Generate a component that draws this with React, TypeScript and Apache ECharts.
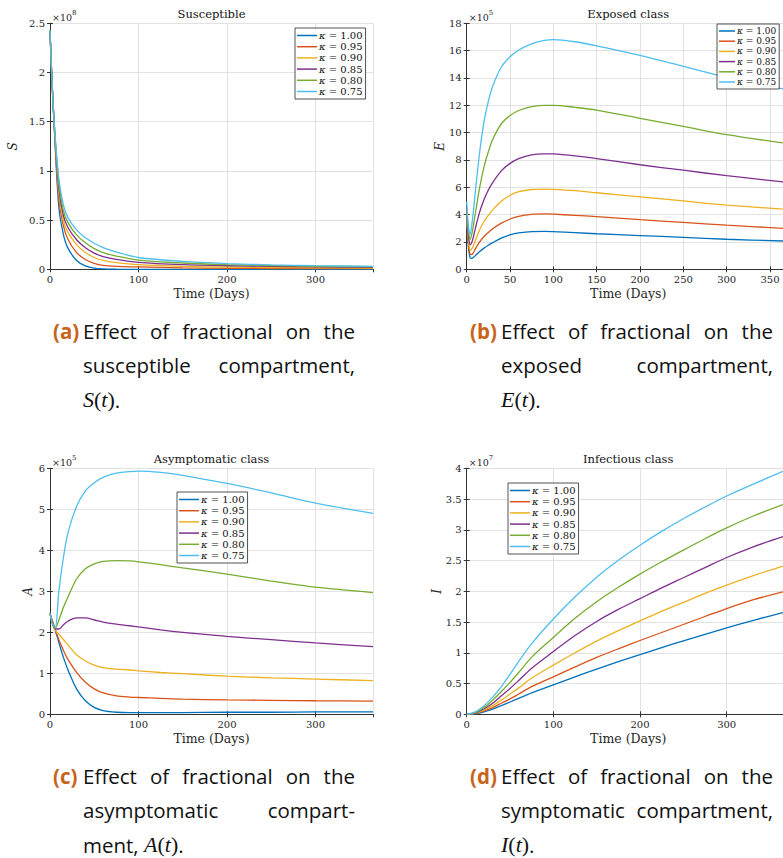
import React, { useEffect, useRef } from "react";
import * as echarts from "echarts";

// ---------------- data ----------------
const KAPPAS = ["1.00", "0.95", "0.90", "0.85", "0.80", "0.75"];
const COLORS = ["#0072BD", "#D95319", "#EDB120", "#7E2F8E", "#77AC30", "#4DBEEE"];

// (a) Susceptible, units of 1e8
const T_S = [0, 2, 5, 10, 15, 20, 30, 40, 50, 60, 75, 100, 150, 200, 250, 300, 365];
const S_VALUES = [
  [2.43, 1.95, 1.4, 0.63, 0.36, 0.22, 0.09, 0.035, 0.012, 0.004, 0.001, 0, 0, 0, 0, 0, 0],
  [2.43, 1.96, 1.42, 0.72, 0.45, 0.31, 0.17, 0.1, 0.06, 0.04, 0.03, 0.024, 0.014, 0.01, 0.008, 0.007, 0.006],
  [2.43, 1.96, 1.43, 0.78, 0.5, 0.38, 0.25, 0.17, 0.12, 0.09, 0.068, 0.047, 0.03, 0.022, 0.018, 0.015, 0.012],
  [2.43, 1.97, 1.44, 0.83, 0.55, 0.43, 0.3, 0.22, 0.165, 0.13, 0.1, 0.07, 0.047, 0.036, 0.029, 0.024, 0.02],
  [2.43, 1.97, 1.45, 0.87, 0.6, 0.48, 0.35, 0.27, 0.21, 0.17, 0.135, 0.094, 0.064, 0.048, 0.038, 0.031, 0.026],
  [2.43, 1.98, 1.46, 0.92, 0.66, 0.53, 0.4, 0.32, 0.265, 0.22, 0.175, 0.12, 0.08, 0.058, 0.045, 0.037, 0.03],
];

// (b) Exposed, units of 1e5
const T_E = [0, 2, 4, 6, 8, 10, 15, 20, 25, 30, 40, 50, 60, 75, 90, 100, 125, 150, 200, 250, 300, 365];
const E_VALUES = [
  [3.6, 1.6, 0.85, 0.8, 0.88, 1.0, 1.3, 1.55, 1.76, 1.95, 2.28, 2.52, 2.66, 2.76, 2.77, 2.75, 2.68, 2.6, 2.47, 2.34, 2.2, 2.07],
  [4.4, 2.0, 1.1, 1.08, 1.25, 1.5, 2.0, 2.4, 2.7, 2.97, 3.38, 3.68, 3.88, 4.02, 4.05, 4.03, 3.95, 3.85, 3.63, 3.43, 3.23, 3.0],
  [3.8, 2.2, 1.4, 1.5, 1.78, 2.1, 2.9, 3.5, 3.95, 4.35, 4.98, 5.42, 5.68, 5.84, 5.87, 5.85, 5.75, 5.6, 5.3, 5.0, 4.7, 4.4],
  [3.9, 2.5, 1.8, 2.0, 2.45, 3.0, 4.2, 5.1, 5.8, 6.35, 7.2, 7.75, 8.1, 8.38, 8.45, 8.44, 8.3, 8.1, 7.65, 7.25, 6.85, 6.4],
  [4.1, 2.8, 2.2, 2.6, 3.3, 4.1, 6.0, 7.5, 8.6, 9.5, 10.65, 11.25, 11.62, 11.9, 12.0, 12.0, 11.85, 11.65, 11.05, 10.45, 9.85, 9.25],
  [4.95, 3.2, 2.55, 3.3, 4.4, 5.7, 8.6, 10.8, 12.3, 13.4, 14.8, 15.55, 16.05, 16.5, 16.75, 16.8, 16.65, 16.35, 15.65, 14.85, 14.05, 13.2],
];

// (c) Asymptomatic, units of 1e5
const T_A = [0, 3, 6, 10, 15, 20, 30, 40, 50, 60, 75, 90, 100, 125, 150, 200, 250, 300, 365];
const A_VALUES = [
  [2.46, 2.25, 2.05, 1.75, 1.4, 1.1, 0.62, 0.33, 0.17, 0.09, 0.05, 0.04, 0.04, 0.04, 0.04, 0.05, 0.05, 0.06, 0.06],
  [2.46, 2.25, 2.06, 1.82, 1.57, 1.35, 1.02, 0.78, 0.62, 0.52, 0.45, 0.42, 0.41, 0.39, 0.37, 0.35, 0.34, 0.33, 0.32],
  [2.46, 2.18, 2.05, 1.95, 1.83, 1.7, 1.45, 1.3, 1.2, 1.14, 1.1, 1.08, 1.06, 1.02, 0.99, 0.93, 0.89, 0.86, 0.82],
  [2.46, 2.2, 2.08, 2.08, 2.18, 2.27, 2.35, 2.35, 2.3, 2.25, 2.2, 2.16, 2.13, 2.06, 2.0, 1.9, 1.82, 1.74, 1.65],
  [2.46, 2.2, 2.1, 2.3, 2.6, 2.85, 3.3, 3.55, 3.67, 3.73, 3.75, 3.74, 3.72, 3.65, 3.57, 3.42, 3.25, 3.1, 2.97],
  [2.46, 2.2, 2.12, 3.0, 3.8, 4.4, 5.07, 5.45, 5.65, 5.78, 5.88, 5.92, 5.93, 5.9, 5.83, 5.63, 5.4, 5.15, 4.9],
];

// (d) Infectious, units of 1e7
const T_I = [0, 10, 20, 30, 40, 50, 60, 75, 100, 125, 150, 175, 200, 225, 250, 275, 300, 330, 365];
const I_VALUES = [
  [0, 0.01, 0.04, 0.085, 0.14, 0.2, 0.26, 0.35, 0.48, 0.61, 0.735, 0.855, 0.97, 1.085, 1.195, 1.3, 1.405, 1.525, 1.655],
  [0, 0.015, 0.055, 0.11, 0.18, 0.25, 0.33, 0.45, 0.61, 0.77, 0.925, 1.065, 1.2, 1.33, 1.46, 1.59, 1.72, 1.86, 1.99],
  [0, 0.02, 0.07, 0.14, 0.23, 0.33, 0.43, 0.59, 0.8, 1.0, 1.19, 1.36, 1.52, 1.675, 1.82, 1.965, 2.1, 2.25, 2.41],
  [0, 0.025, 0.09, 0.18, 0.3, 0.42, 0.55, 0.75, 1.02, 1.28, 1.51, 1.705, 1.88, 2.055, 2.22, 2.385, 2.55, 2.72, 2.89],
  [0, 0.03, 0.11, 0.23, 0.37, 0.52, 0.68, 0.93, 1.25, 1.56, 1.83, 2.065, 2.28, 2.48, 2.67, 2.855, 3.03, 3.22, 3.41],
  [0, 0.04, 0.14, 0.28, 0.45, 0.65, 0.86, 1.15, 1.55, 1.91, 2.23, 2.505, 2.75, 2.975, 3.18, 3.37, 3.55, 3.74, 3.95],
];

const PANEL_TITLES = ["Susceptible", "Exposed class", "Asymptomatic class", "Infectious class"];
const PANEL_YNAMES = ["S", "E", "A", "I"];
const PANEL_EXPONENTS = ["8", "5", "5", "7"];
const PANEL_YMAX = [2.5, 18, 6, 4];
const PANEL_YSTEP = [0.5, 2, 1, 0.5];
const PANEL_XSTEP = [100, 50, 100, 100];
const X_MAX = 365;
const X_NAME = "Time (Days)";

const CAPTION_TAGS = ["(a)", "(b)", "(c)", "(d)"];
const CAPTION_LINE1 = "Effect of fractional on the";
const CAPTION_LINE2 = ["susceptible compartment,", "exposed compartment,", "asymptomatic compart-", "symptomatic compartment,"];
const CAPTION_PREFIX3 = ["", "", "ment, ", ""];
const CAPTION_MATH = ["S", "E", "A", "I"];

// ---------------- layout ----------------
const W = 783;
const H = 858;
const GRIDS = [
  { left: 50, top: 23.3, width: 323, height: 246 },
  { left: 466.7, top: 23.3, width: 323.3, height: 246 },
  { left: 50, top: 468.3, width: 323, height: 246 },
  { left: 466.7, top: 468.3, width: 323.3, height: 246 },
];
const LEGENDS = [
  { left: 295, top: 28, fs: 10 },
  { left: 717, top: 24, fs: 9 },
  { left: 177, top: 492, fs: 10 },
  { left: 508, top: 483, fs: 10 },
];
const SERIF = "'DejaVu Serif', serif";
const CAP_FONT = "'Open Sans', 'Noto Sans', sans-serif";
const CAP_SIZE = 20.5;
const AX_COLOR = "#333333";
const GRID_COLOR = "#e2e2e2";

let measureCtx: CanvasRenderingContext2D | null = null;
function textWidth(t: string, font: string) {
  if (!measureCtx) measureCtx = document.createElement("canvas").getContext("2d");
  measureCtx!.font = font;
  return measureCtx!.measureText(t).width;
}

function justified(words: string[], x0: number, x1: number, y: number) {
  const font = `${CAP_SIZE}px ${CAP_FONT}`;
  const widths = words.map((w) => textWidth(w, font));
  const total = widths.reduce((a, b) => a + b, 0);
  const gap = words.length > 1 ? (x1 - x0 - total) / (words.length - 1) : 0;
  const els: any[] = [];
  let x = x0;
  words.forEach((w, i) => {
    els.push({
      type: "text",
      x,
      y,
      style: { text: w, fontFamily: CAP_FONT, fontSize: CAP_SIZE, fill: "#111", align: "left", verticalAlign: "middle" },
    });
    x += widths[i] + gap;
  });
  return els;
}

function buildOption() {
  const allData = [
    { t: T_S, v: S_VALUES },
    { t: T_E, v: E_VALUES },
    { t: T_A, v: A_VALUES },
    { t: T_I, v: I_VALUES },
  ];
  const names = KAPPAS.map((k) => `κ = ${k}`);
  const xAxis: any[] = [];
  const yAxis: any[] = [];
  const series: any[] = [];
  const legend: any[] = [];
  const graphic: any[] = [];

  GRIDS.forEach((g, p) => {
    const axLine = { show: true, lineStyle: { color: AX_COLOR, width: 1 } };
    const tick = { show: true, inside: true, length: 3, lineStyle: { color: AX_COLOR } };
    xAxis.push({
      gridIndex: p, type: "value", position: "bottom", min: 0, max: X_MAX, interval: PANEL_XSTEP[p],
      axisLine: axLine, axisTick: tick,
      axisLabel: { showMaxLabel: false, fontFamily: SERIF, fontSize: 10, color: "#262626", margin: 5 },
      splitLine: { show: true, lineStyle: { color: GRID_COLOR, width: 1 } },
    });
    xAxis.push({
      gridIndex: p, type: "value", position: "top", min: 0, max: X_MAX, interval: PANEL_XSTEP[p],
      axisLine: axLine, axisTick: tick, axisLabel: { show: false }, splitLine: { show: false },
    });
    yAxis.push({
      gridIndex: p, type: "value", position: "left", min: 0, max: PANEL_YMAX[p], interval: PANEL_YSTEP[p],
      axisLine: axLine, axisTick: tick,
      axisLabel: { fontFamily: SERIF, fontSize: 10, color: "#262626", margin: 5 },
      splitLine: { show: true, lineStyle: { color: GRID_COLOR, width: 1 } },
    });
    yAxis.push({
      gridIndex: p, type: "value", position: "right", min: 0, max: PANEL_YMAX[p], interval: PANEL_YSTEP[p],
      axisLine: axLine, axisTick: tick, axisLabel: { show: false }, splitLine: { show: false },
    });

    const d = allData[p];
    d.v.forEach((vals, s) => {
      series.push({
        type: "line",
        name: names[s],
        xAxisIndex: 2 * p,
        yAxisIndex: 2 * p,
        data: d.t.map((t, i) => [t, vals[i]]),
        symbol: "none",
        showSymbol: false,
        smooth: 0.3,
        lineStyle: { width: 1.3, color: COLORS[s] },
        itemStyle: { color: COLORS[s] },
        z: 2 + s * 0.01,
      });
    });

    const lg = LEGENDS[p];
    legend.push({
      orient: "vertical",
      left: lg.left,
      top: lg.top,
      data: names.map((n) => ({ name: n, icon: "rect" })),
      selectedMode: false,
      itemWidth: lg.fs === 10 ? 20 : 16,
      itemHeight: 1.5,
      itemGap: 1.2,
      padding: [2.5, 3, 2.5, 2],
      backgroundColor: "#ffffff",
      borderColor: "#262626",
      borderWidth: 0.8,
      borderRadius: 0,
      formatter: (n: string) => `{k|κ}{v| = ${n.split("= ")[1]}}`,
      textStyle: {
        fontFamily: SERIF, fontSize: lg.fs, color: "#111", padding: [0, 0, 0, -3],
        rich: {
          k: { fontFamily: SERIF, fontStyle: "italic", fontSize: lg.fs, lineHeight: 10.5 },
          v: { fontFamily: SERIF, fontSize: lg.fs, lineHeight: 10.5 },
        },
      },
    });

    const cx = g.left + 161.5;
    graphic.push({
      type: "text", x: cx, y: g.top - 9.5,
      style: { text: PANEL_TITLES[p], fontFamily: SERIF, fontSize: 11.5, fill: "#111", align: "center", verticalAlign: "middle" },
    });
    graphic.push({
      type: "text", x: cx, y: g.top + g.height + 24,
      style: { text: X_NAME, fontFamily: SERIF, fontSize: 12.5, fill: "#262626", align: "center", verticalAlign: "middle" },
    });
    const ynameX = [13, 440, 28, 436.7][p];
    graphic.push({
      type: "text", x: ynameX, y: g.top + g.height / 2, rotation: Math.PI / 2,
      style: { text: PANEL_YNAMES[p], fontFamily: SERIF, fontStyle: "italic", fontSize: 12, fill: "#262626", align: "center", verticalAlign: "middle" },
    });
    graphic.push({
      type: "text", x: g.left + 2, y: g.top - 7,
      style: {
        text: `{a|×10}{b|${PANEL_EXPONENTS[p]}}`,
        rich: {
          a: { fontFamily: SERIF, fontSize: 9.5, fill: "#262626", verticalAlign: "bottom" },
          b: { fontFamily: SERIF, fontSize: 7, fill: "#262626", padding: [0, 0, 6, 0], verticalAlign: "bottom" },
        },
        align: "left", verticalAlign: "middle",
      },
    });

    const col = p % 2;
    const row = Math.floor(p / 2);
    const tagX = col === 0 ? 53 : 470;
    const x0 = col === 0 ? 83 : 501;
    const x1 = col === 0 ? 355 : 773;
    const yBase = 330.5 + row * 445;
    graphic.push({
      type: "text", x: tagX, y: yBase,
      style: { text: CAPTION_TAGS[p], fontFamily: CAP_FONT, fontWeight: "bold", fontSize: CAP_SIZE, fill: "#c8641a", align: "left", verticalAlign: "middle" },
    });
    graphic.push(...justified(CAPTION_LINE1.split(" "), x0, x1, yBase));
    graphic.push(...justified(CAPTION_LINE2[p].split(" "), x0, x1, yBase + 34.5));
    graphic.push({
      type: "text", x: x0, y: yBase + 69,
      style: {
        text: `${CAPTION_PREFIX3[p] ? "{c|" + CAPTION_PREFIX3[p] + "}" : ""}{m|${CAPTION_MATH[p]}}{r|(}{m|t}{r|)}{c|.}`,
        rich: {
          c: { fontFamily: CAP_FONT, fontSize: CAP_SIZE, fill: "#111" },
          m: { fontFamily: "'Liberation Serif', serif", fontStyle: "italic", fontSize: 22, fill: "#111" },
          r: { fontFamily: "'Liberation Serif', serif", fontSize: 22, fill: "#111" },
        },
        align: "left", verticalAlign: "middle",
      },
    });
  });

  return {
    animation: false,
    backgroundColor: "#ffffff",
    grid: GRIDS.map((g) => ({ ...g, containLabel: false })),
    xAxis,
    yAxis,
    legend,
    series,
    graphic: { elements: graphic },
  };
}

export default function App() {
  const ref = useRef<HTMLDivElement>(null);
  useEffect(() => {
    document.body.style.margin = "0";
    if (!ref.current) return;
    const chart = echarts.init(ref.current, null, { renderer: "svg" });
    chart.setOption(buildOption() as any);
    return () => chart.dispose();
  }, []);
  return <div ref={ref} style={{ width: W, height: H, overflow: "hidden" }} />;
}
